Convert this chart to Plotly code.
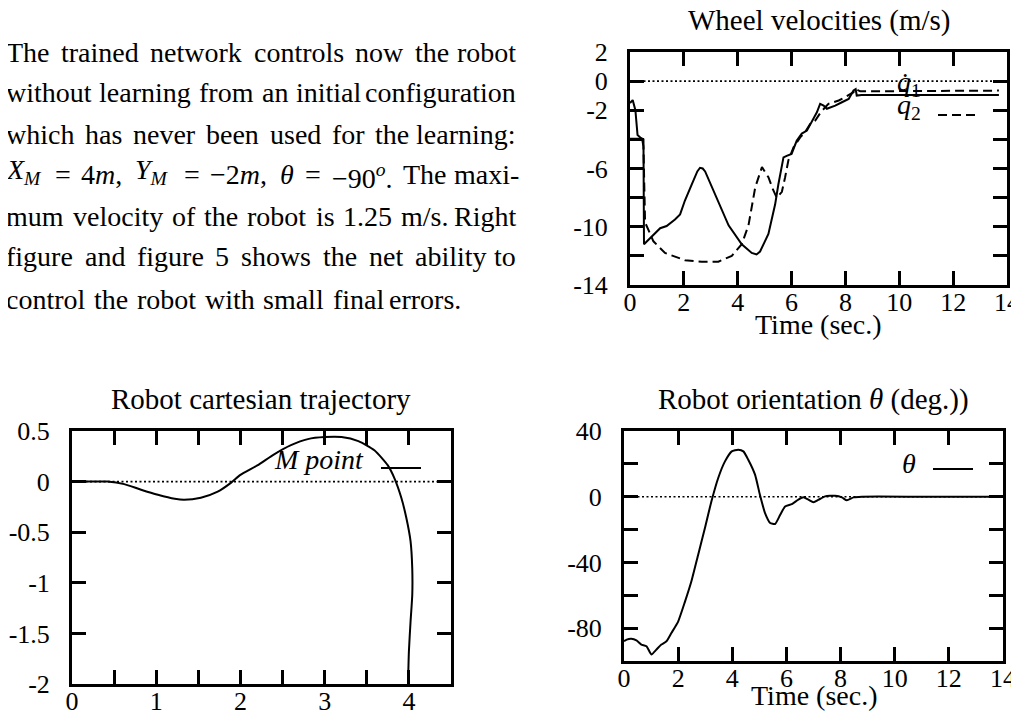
import re
import plotly.graph_objects as go

W, H = 1019, 711

# ---------------- data ----------------
# Wheel velocities (m/s) vs time (sec.)
q1_t = [0, 0.1, 0.2, 0.28, 0.4, 0.5, 0.52, 0.93, 1.12, 1.36, 1.67, 1.86, 2.04, 2.29, 2.5, 2.6, 2.7, 2.79,
        3.16, 3.66, 4.15, 4.52, 4.7, 4.83, 5.14, 5.39, 5.51, 5.70, 5.82, 6.0, 6.19, 6.38, 6.57, 6.75,
        6.94, 7.06, 7.19, 7.31, 7.43, 7.62, 7.87, 8.12, 8.3, 8.38, 8.42, 8.6, 13.7]
q1_v = [-1.5, -1.3, -2.0, -3.7, -3.9, -4.0, -11.2, -10.4, -10.1, -9.95, -9.5, -9.15, -8.2, -7.1, -6.2, -5.95, -6.0, -6.2,
        -7.8, -9.9, -11.2, -11.8, -11.9, -11.7, -10.5, -8.46, -7.08, -5.24, -5.13, -5.0, -4.1, -3.6, -3.4, -2.83,
        -2.14, -1.56, -1.68, -1.9, -1.83, -1.68, -1.45, -1.22, -0.64, -0.55, -0.99, -0.95, -0.95]

q2_t = [0, 0.45, 0.5, 0.56, 0.87, 1.3, 2.04, 2.66, 3.28, 3.78, 4.15, 4.4, 4.65, 4.9, 5.14, 5.3,
        5.45, 5.64, 5.76, 5.88, 6.07, 6.32, 6.5, 6.69, 6.88, 7.06, 7.25, 7.37, 7.56, 7.75, 7.99,
        8.18, 8.3, 8.36, 8.49, 8.55, 13.7]
q2_v = [-3.95, -3.95, -4.5, -9.7, -11.0, -11.8, -12.3, -12.4, -12.4, -12.0, -11.2, -9.9, -7.3, -5.9, -6.6, -7.4,
        -8.0, -7.6, -6.6, -5.45, -4.55, -3.86, -3.5, -2.94, -2.7, -2.2, -1.79, -1.56, -1.45, -1.33, -1.1,
        -0.87, -0.76, -0.53, -0.64, -0.7, -0.65]

# Robot cartesian trajectory (M point)
traj_x = [3.99, 4.00, 4.02, 4.04, 4.04, 4.02, 3.97, 3.91, 3.83, 3.75, 3.59, 3.4, 3.2, 3.0, 2.8, 2.6,
          2.4, 2.2, 2.0, 1.89, 1.73, 1.53, 1.33, 1.22, 1.02, 0.82, 0.62, 0.42, 0.2, 0.0]
traj_y = [-2.0, -1.68, -1.38, -1.12, -0.86, -0.59, -0.36, -0.16, 0.03, 0.16, 0.31, 0.40, 0.44, 0.44, 0.42, 0.36,
          0.27, 0.16, 0.066, -0.01, -0.10, -0.16, -0.18, -0.17, -0.13, -0.08, -0.025, 0.0, 0.0, 0.0]

# Robot orientation theta (deg.) vs time
theta_t = [0, 0.1, 0.27, 0.46, 0.64, 0.83, 1.01, 1.2, 1.38, 1.57, 1.75, 2.0, 2.25, 2.49, 2.74, 2.99,
           3.23, 3.48, 3.73, 3.98, 4.22, 4.41, 4.59, 4.84, 5.02, 5.21, 5.4, 5.58, 5.77, 5.95, 6.2,
           6.44, 6.63, 6.81, 7.0, 7.19, 7.43, 7.8, 8.05, 8.23, 8.48, 8.79, 11, 14]
theta_v = [-88, -87, -86.5, -87.5, -90, -91, -96, -93, -90, -88, -83, -76, -64, -51.5, -35.3, -19,
           -2.8, 11.4, 21.5, 27.6, 28.6, 27.6, 22.5, 13.4, 1.2, -10, -16, -16.6, -11, -5.9, -4.5,
           -1.8, -0.4, -1.8, -3.4, -1.8, 0.2, 0.6, -0.4, -2.2, -0.4, 0, 0, 0]

# ticks (labelled ticks and unlabelled ticks)
wheel_xticks = [0, 2, 4, 6, 8, 10, 12, 14]
wheel_yticks = [2, 0, -2, -6, -10, -14]
wheel_ylabels = ["2", "0", "-2", "-6", "-10", "-14"]
wheel_yminor = [-4, -8, -12]
traj_xticks = [0, 1, 2, 3, 4]
traj_xlabels = ["0", "1", "2", "3", "4"]
traj_xminor = [0.5, 1.5, 2.5, 3.5, 4.5]
traj_yticks = [0.5, 0, -0.5, -1, -1.5, -2]
traj_ylabels = ["0.5", "0", "-0.5", "-1", "-1.5", "-2"]
orient_xticks = [0, 2, 4, 6, 8, 10, 12, 14]
orient_yticks = [40, 0, -40, -80]
orient_ylabels = ["40", "0", "-40", "-80"]
orient_yminor = [20, -20, -60, -100]

body_lines = [
    "The trained network controls now the robot",
    "without learning from an initial configuration",
    "which has never been used for the learning:",
    "<i>X</i><sub><i>M</i></sub> = 4<i>m</i>, <i>Y</i><sub><i>M</i></sub> = \u22122<i>m</i>, "
    "<i>\u03b8</i> = \u221290<sup><i>o</i></sup>. The maxi-",
    "mum velocity of the robot is 1.25 m/s. Right",
    "figure and figure 5 shows the net ability to",
    "control the robot with small final errors.",
]

# ---------------- helpers ----------------
FONT = "Liberation Serif"
BLACK = "black"


def fx(px):
    return px / W


def fy(py):
    return 1 - py / H


CW = {' ': .25, 'a': .444, 'b': .5, 'c': .444, 'd': .5, 'e': .444, 'f': .333, 'g': .5, 'h': .5,
      'i': .278, 'j': .278, 'k': .5, 'l': .278, 'm': .778, 'n': .5, 'o': .5, 'p': .5, 'q': .5,
      'r': .333, 's': .389, 't': .278, 'u': .5, 'v': .5, 'w': .722, 'x': .5, 'y': .5, 'z': .444,
      'T': .611, 'R': .667, 'X': .722, 'Y': .722, 'M': .889, '.': .25, ',': .25, ':': .278,
      '-': .333, '/': .278, '=': .564, '\u2212': .564, '\u03b8': .5}


def tw(html, size):
    w = 0.0
    for m in re.finditer(r'<(sub|sup)>(.*?)</\1>|([^<]+)|<[^>]+>', html):
        if m.group(1):
            inner = re.sub(r'<[^>]+>', '', m.group(2))
            w += 0.7 * sum(CW.get(c, .5) for c in inner)
        elif m.group(3):
            w += sum(CW.get(c, .5) for c in m.group(3))
    return w * size


fig = go.Figure()

fig.add_trace(go.Scatter(x=q1_t, y=q1_v, mode="lines", line=dict(color=BLACK, width=2), xaxis="x", yaxis="y",
                         name="q1", hoverinfo="skip"))
fig.add_trace(go.Scatter(x=q2_t, y=q2_v, mode="lines", line=dict(color=BLACK, width=2, dash="9px,5px"),
                         xaxis="x", yaxis="y", name="q2", hoverinfo="skip"))
fig.add_trace(go.Scatter(x=traj_x, y=traj_y, mode="lines", line=dict(color=BLACK, width=2, shape="spline",
                         smoothing=0.6), xaxis="x2", yaxis="y2", name="M point", hoverinfo="skip"))
fig.add_trace(go.Scatter(x=theta_t, y=theta_v, mode="lines", line=dict(color=BLACK, width=2, shape="spline",
                         smoothing=0.5), xaxis="x3", yaxis="y3", name="theta", hoverinfo="skip"))

TICKLEN = 14
axis_common = dict(showline=True, linewidth=3, linecolor=BLACK, mirror="allticks", ticks="inside",
                   ticklen=TICKLEN, tickwidth=3, tickcolor=BLACK, showgrid=False, zeroline=False,
                   tickfont=dict(family=FONT, size=26, color=BLACK), automargin=False,
                   fixedrange=True, tickmode="array")


def minor(vals):
    return dict(tickmode="array", tickvals=vals, ticks="inside", ticklen=TICKLEN, tickwidth=3,
                tickcolor=BLACK, showgrid=False)


XSTAND = -8
YSTAND = 14

# pixel boxes
WX = (622, 999); WY = (44, 277)
TX = (64, 443); TY = (423, 676)
OX = (616, 995); OY = (423, 653)

fig.update_layout(
    width=W, height=H, margin=dict(l=0, r=0, t=0, b=0),
    paper_bgcolor="white", plot_bgcolor="white", showlegend=False, template="none",
    xaxis=dict(axis_common, domain=[fx(WX[0]), fx(WX[1])], range=[0, 14], anchor="y",
               tickvals=wheel_xticks, ticktext=[str(v) for v in wheel_xticks], ticklabelstandoff=XSTAND),
    yaxis=dict(axis_common, domain=[fy(WY[1]), fy(WY[0])], range=[-14, 2], anchor="x",
               tickvals=wheel_yticks, ticktext=wheel_ylabels, ticklabelstandoff=YSTAND,
               minor=minor(wheel_yminor)),
    xaxis2=dict(axis_common, domain=[fx(TX[0]), fx(TX[1])], range=[0, 4.5], anchor="y2",
                tickvals=traj_xticks, ticktext=traj_xlabels, ticklabelstandoff=XSTAND,
                minor=minor(traj_xminor)),
    yaxis2=dict(axis_common, domain=[fy(TY[1]), fy(TY[0])], range=[-2, 0.5], anchor="x2",
                tickvals=traj_yticks, ticktext=traj_ylabels, ticklabelstandoff=YSTAND),
    xaxis3=dict(axis_common, domain=[fx(OX[0]), fx(OX[1])], range=[0, 14], anchor="y3",
                tickvals=orient_xticks, ticktext=[str(v) for v in orient_xticks], ticklabelstandoff=XSTAND),
    yaxis3=dict(axis_common, domain=[fy(OY[1]), fy(OY[0])], range=[-100, 40], anchor="x3",
                tickvals=orient_yticks, ticktext=orient_ylabels, ticklabelstandoff=YSTAND,
                minor=minor(orient_yminor)),
)

# dotted zero lines
for xr, yr in (("x", "y"), ("x2", "y2"), ("x3", "y3")):
    fig.add_shape(type="line", xref=f"{xr} domain", yref=yr, x0=0, x1=1, y0=0, y1=0,
                  line=dict(color=BLACK, width=1.6, dash="2px,2.5px"), layer="below")

annotations = []
YOFF = -7  # glyph centre vs. text box centre


def ann(text, px, py, size=28, xanchor="center", yanchor="middle", yshift=0):
    annotations.append(dict(text=text, x=fx(px), y=fy(py + YOFF), xref="paper", yref="paper",
                            xanchor=xanchor, yanchor=yanchor, showarrow=False, yshift=yshift,
                            font=dict(family=FONT, size=size, color=BLACK)))


# titles
ann("Wheel velocities (m/s)", 811, 19, size=29)
ann("Robot cartesian trajectory", 253, 398, size=29)
ann("Robot orientation <i>\u03b8</i> (deg.))", 805, 398, size=29)
ann("Time (sec.)", 810, 323, size=28)
ann("Time (sec.)", 806, 694, size=28)

# legends (text left of the sample, gnuplot style)
ann("<i>q\u0307</i><sub>1</sub>", 915, 82, size=28, xanchor="right")
ann("<i>q</i><sub>2</sub>", 915, 105, size=28, xanchor="right")
ann("<i>M point</i>", 358, 458, size=28, xanchor="right")
ann("<i>\u03b8</i>", 910, 462, size=28, xanchor="right")
legend_samples = [((925, 967), 87, None), ((930, 967), 107, "9px,5px"), ((373, 413), 460, None),
                  ((925, 965), 461, None)]
for (a, b), yy, dash in legend_samples:
    fig.add_shape(type="line", xref="paper", yref="paper", x0=fx(a), x1=fx(b), y0=fy(yy), y1=fy(yy),
                  line=dict(color=BLACK, width=2, dash=dash) if dash else dict(color=BLACK, width=2))

# body text, justified word by word
BODY_SIZE = 28
line_y = [51, 92, 133, 174, 215, 256, 298]
right_edges = [510, 510, 510, 513, 510, 510, 455]
LEFT = -4
for text, yy, right in zip(body_lines, line_y, right_edges):
    words = text.split(" ")
    widths = [tw(wd, BODY_SIZE) for wd in words]
    gap = (right - LEFT - sum(widths)) / (len(words) - 1)
    xcur = LEFT
    for i, (wd, wdt) in enumerate(zip(words, widths)):
        shift = 0
        if "<sub>" in wd:
            shift = 3
        elif "<sup>" in wd:
            shift = -2
        if i == len(words) - 1:
            ann(wd, right, yy, size=BODY_SIZE, xanchor="right", yshift=shift)
        else:
            ann(wd, xcur, yy, size=BODY_SIZE, xanchor="left", yshift=shift)
        xcur += wdt + gap

fig.update_layout(annotations=annotations)

fig.write_html("out.html")
